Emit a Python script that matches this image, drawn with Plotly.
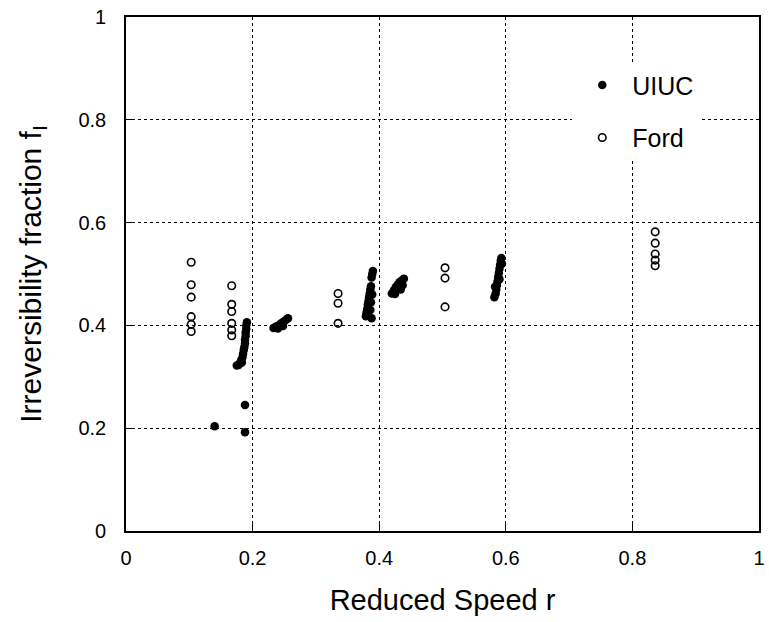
import plotly.graph_objects as go

# UIUC data (filled dots)
uiuc_r = [0.140, 0.188, 0.188,
          0.175, 0.178, 0.180, 0.182, 0.183, 0.184, 0.185, 0.186, 0.187, 0.188, 0.188, 0.189, 0.189, 0.190, 0.190, 0.191,
          0.233, 0.237, 0.240, 0.241, 0.244, 0.247, 0.248, 0.250, 0.253, 0.256,
          0.379, 0.380, 0.381, 0.382, 0.383, 0.384, 0.385, 0.386, 0.387, 0.388, 0.386, 0.387, 0.389, 0.388, 0.389, 0.390,
          0.420, 0.423, 0.426, 0.429, 0.432, 0.436, 0.439, 0.425, 0.434, 0.437,
          0.582, 0.584, 0.585, 0.586, 0.587, 0.588, 0.589, 0.590, 0.591, 0.592, 0.593, 0.583, 0.590, 0.594]
uiuc_f = [0.204, 0.245, 0.192,
          0.322, 0.323, 0.327, 0.332, 0.328, 0.338, 0.345, 0.352, 0.358, 0.365, 0.372, 0.379, 0.386, 0.393, 0.400, 0.406,
          0.395, 0.398, 0.394, 0.400, 0.403, 0.405, 0.399, 0.408, 0.411, 0.414,
          0.418, 0.425, 0.432, 0.440, 0.447, 0.455, 0.462, 0.470, 0.476, 0.414, 0.430, 0.445, 0.460, 0.493, 0.500, 0.506,
          0.462, 0.468, 0.474, 0.479, 0.484, 0.488, 0.491, 0.461, 0.470, 0.478,
          0.455, 0.462, 0.470, 0.478, 0.486, 0.494, 0.502, 0.510, 0.518, 0.526, 0.531, 0.475, 0.490, 0.520]

# Ford data (open circles)
ford_r = [0.103] * 6 + [0.167] * 6 + [0.335] * 3 + [0.504] * 3 + [0.836] * 5
ford_f = [0.523, 0.479, 0.455, 0.417, 0.402, 0.388,
          0.477, 0.441, 0.427, 0.404, 0.391, 0.380,
          0.462, 0.443, 0.404,
          0.512, 0.492, 0.436,
          0.582, 0.560, 0.539, 0.527, 0.516]

tick_vals = [0, 0.2, 0.4, 0.6, 0.8, 1]
tick_text = ["0", "0.2", "0.4", "0.6", "0.8", "1"]

FONT = "Liberation Sans, Arial, Helvetica, sans-serif"

fig = go.Figure()
fig.add_trace(go.Scatter(
    x=uiuc_r, y=uiuc_f, mode="markers", name="UIUC", legendgroup="a",
    marker=dict(symbol="circle", size=8.5, color="black", line=dict(width=0)),
))
fig.add_trace(go.Scatter(
    x=ford_r, y=ford_f, mode="markers", name="Ford", legendgroup="b",
    marker=dict(symbol="circle-open", size=7.5, color="black", line=dict(width=1.6)),
))

axis_common = dict(
    range=[0, 1], tickvals=tick_vals, ticktext=tick_text,
    showline=True, linecolor="black", linewidth=1.6, mirror=True,
    ticks="inside", ticklen=8, tickwidth=1.2, tickcolor="black",
    showgrid=True, gridcolor="black", gridwidth=1.2, griddash="dot",
    zeroline=False, tickfont=dict(size=20, color="black", family=FONT),
)

fig.update_layout(
    width=769, height=622,
    margin=dict(l=126, r=4, t=17, b=91),
    paper_bgcolor="white", plot_bgcolor="white",
    font=dict(family=FONT, color="black"),
    xaxis=dict(**axis_common, ticklabelstandoff=8,
               title=dict(text="Reduced Speed r", font=dict(size=29, color="black"), standoff=22)),
    yaxis=dict(**axis_common, ticklabelstandoff=14,
               title=dict(text="Irreversibility fraction f<sub>I</sub>", font=dict(size=30, color="black"), standoff=28)),
    legend=dict(x=0.705, y=0.912, xanchor="left", yanchor="top",
                bgcolor="white", borderwidth=0, font=dict(size=25, color="black", family=FONT),
                tracegroupgap=17, traceorder="grouped", itemwidth=50),
    showlegend=True,
)

fig.write_html("out.html")
